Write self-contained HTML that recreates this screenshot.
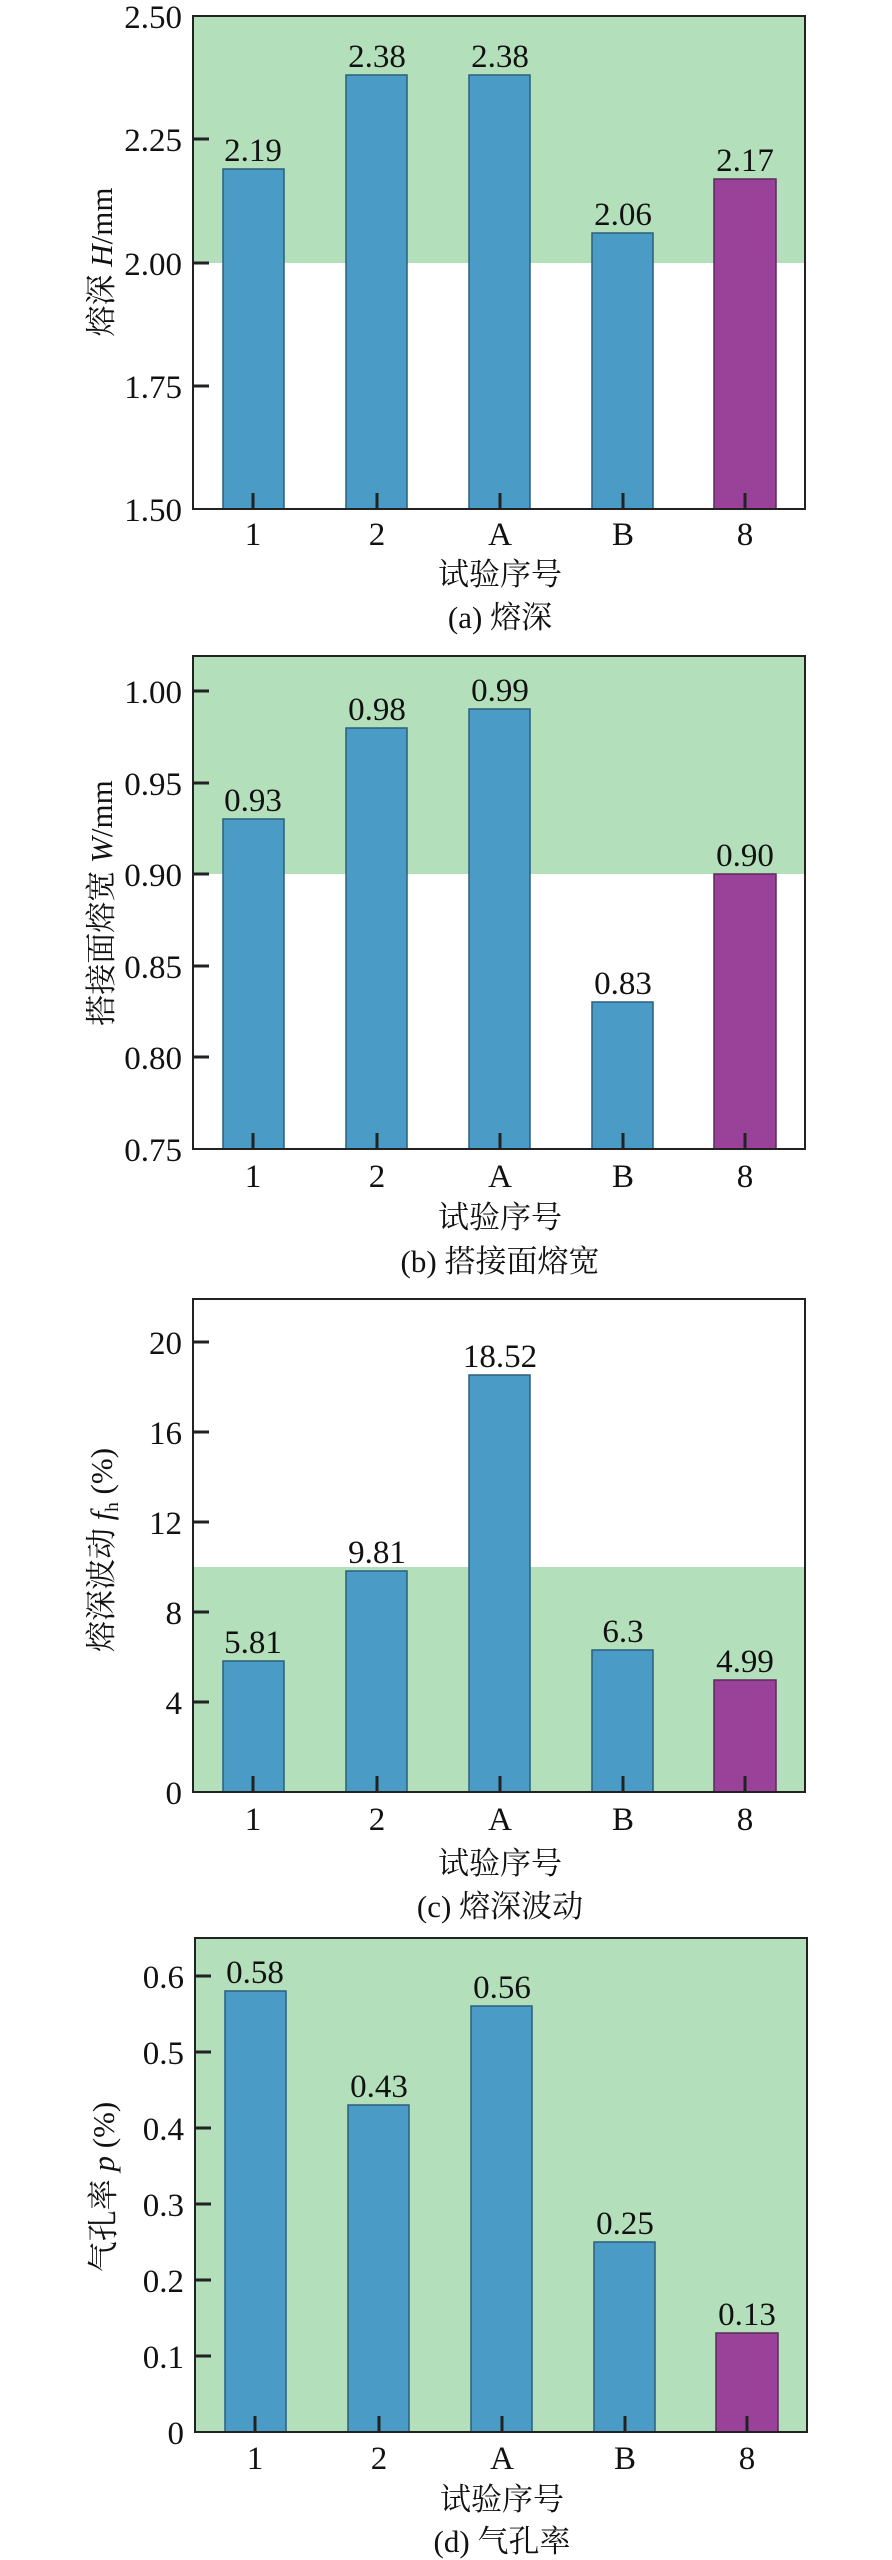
<!DOCTYPE html>
<html><head><meta charset="utf-8"><style>
html,body{margin:0;padding:0;background:#fff}
svg{display:block}
text{font-family:"Liberation Serif","Times New Roman","Noto Serif CJK SC",serif;fill:#111}
.t{font-size:33px}
.c{font-size:31px;font-family:"Liberation Serif","Noto Serif CJK SC","Noto Sans CJK SC",serif}
</style></head><body>
<svg width="892" height="2560" viewBox="0 0 892 2560" xmlns="http://www.w3.org/2000/svg">
<defs><style>.bb{fill:#4a9cc7;stroke:#2d5f7c;stroke-width:1.5}.pb{fill:#9a4199;stroke:#5a2a5a;stroke-width:1.5}.ax{fill:none;stroke:#222;stroke-width:2}.tk{stroke:#222;stroke-width:3}</style></defs>

<!-- Panel a -->
<rect x="193" y="16" width="612" height="247" fill="#b3dfbb"/>
<rect class="bb" x="223" y="169" width="61" height="340"/>
<rect class="bb" x="346" y="75" width="61" height="434"/>
<rect class="bb" x="469" y="75" width="61" height="434"/>
<rect class="bb" x="592" y="233" width="61" height="276"/>
<rect class="pb" x="714" y="179" width="62" height="330"/>
<rect class="ax" x="193" y="16" width="612" height="493"/>
<g class="tk"><line x1="193" y1="139" x2="209" y2="139"/><line x1="193" y1="263" x2="209" y2="263"/><line x1="193" y1="386" x2="209" y2="386"/>
<line x1="253" y1="509" x2="253" y2="493"/><line x1="377" y1="509" x2="377" y2="493"/><line x1="500" y1="509" x2="500" y2="493"/><line x1="623" y1="509" x2="623" y2="493"/><line x1="745" y1="509" x2="745" y2="493"/></g>
<g class="t" text-anchor="end"><text x="182" y="28">2.50</text><text x="182" y="151">2.25</text><text x="182" y="275">2.00</text><text x="182" y="398">1.75</text><text x="182" y="521">1.50</text></g>
<g class="t" text-anchor="middle"><text x="253" y="161">2.19</text><text x="377" y="67">2.38</text><text x="500" y="67">2.38</text><text x="623" y="225">2.06</text><text x="745" y="171">2.17</text>
<text x="253" y="545">1</text><text x="377" y="545">2</text><text x="500" y="545">A</text><text x="623" y="545">B</text><text x="745" y="545">8</text></g>
<text class="c" x="500" y="585" text-anchor="middle">试验序号</text>
<text class="c" x="500" y="628" text-anchor="middle">(a) 熔深</text>
<text class="c" transform="translate(112,262) rotate(-90)" text-anchor="middle">熔深 <tspan font-style="italic">H</tspan>/mm</text>

<!-- Panel b -->
<rect x="193" y="656" width="612" height="218" fill="#b3dfbb"/>
<rect class="bb" x="223" y="819" width="61" height="330"/>
<rect class="bb" x="346" y="728" width="61" height="421"/>
<rect class="bb" x="469" y="709" width="61" height="440"/>
<rect class="bb" x="592" y="1002" width="61" height="147"/>
<rect class="pb" x="714" y="874" width="62" height="275"/>
<rect class="ax" x="193" y="656" width="612" height="493"/>
<g class="tk"><line x1="193" y1="691" x2="209" y2="691"/><line x1="193" y1="783" x2="209" y2="783"/><line x1="193" y1="874" x2="209" y2="874"/><line x1="193" y1="966" x2="209" y2="966"/><line x1="193" y1="1057" x2="209" y2="1057"/>
<line x1="253" y1="1149" x2="253" y2="1133"/><line x1="377" y1="1149" x2="377" y2="1133"/><line x1="500" y1="1149" x2="500" y2="1133"/><line x1="623" y1="1149" x2="623" y2="1133"/><line x1="745" y1="1149" x2="745" y2="1133"/></g>
<g class="t" text-anchor="end"><text x="182" y="703">1.00</text><text x="182" y="795">0.95</text><text x="182" y="886">0.90</text><text x="182" y="978">0.85</text><text x="182" y="1069">0.80</text><text x="182" y="1161">0.75</text></g>
<g class="t" text-anchor="middle"><text x="253" y="811">0.93</text><text x="377" y="720">0.98</text><text x="500" y="701">0.99</text><text x="623" y="994">0.83</text><text x="745" y="866">0.90</text>
<text x="253" y="1187">1</text><text x="377" y="1187">2</text><text x="500" y="1187">A</text><text x="623" y="1187">B</text><text x="745" y="1187">8</text></g>
<text class="c" x="500" y="1228" text-anchor="middle">试验序号</text>
<text class="c" x="500" y="1272" text-anchor="middle">(b) 搭接面熔宽</text>
<text class="c" transform="translate(112,903) rotate(-90)" text-anchor="middle">搭接面熔宽 <tspan font-style="italic">W</tspan>/mm</text>

<!-- Panel c -->
<rect x="193" y="1567" width="612" height="225" fill="#b3dfbb"/>
<rect class="bb" x="223" y="1661" width="61" height="131"/>
<rect class="bb" x="346" y="1571" width="61" height="221"/>
<rect class="bb" x="469" y="1375" width="61" height="417"/>
<rect class="bb" x="592" y="1650" width="61" height="142"/>
<rect class="pb" x="714" y="1680" width="62" height="112"/>
<rect class="ax" x="193" y="1299" width="612" height="493"/>
<g class="tk"><line x1="193" y1="1342" x2="209" y2="1342"/><line x1="193" y1="1432" x2="209" y2="1432"/><line x1="193" y1="1522" x2="209" y2="1522"/><line x1="193" y1="1612" x2="209" y2="1612"/><line x1="193" y1="1702" x2="209" y2="1702"/>
<line x1="253" y1="1792" x2="253" y2="1776"/><line x1="377" y1="1792" x2="377" y2="1776"/><line x1="500" y1="1792" x2="500" y2="1776"/><line x1="623" y1="1792" x2="623" y2="1776"/><line x1="745" y1="1792" x2="745" y2="1776"/></g>
<g class="t" text-anchor="end"><text x="182" y="1354">20</text><text x="182" y="1444">16</text><text x="182" y="1534">12</text><text x="182" y="1624">8</text><text x="182" y="1714">4</text><text x="182" y="1804">0</text></g>
<g class="t" text-anchor="middle"><text x="253" y="1653">5.81</text><text x="377" y="1563">9.81</text><text x="500" y="1367">18.52</text><text x="623" y="1642">6.3</text><text x="745" y="1672">4.99</text>
<text x="253" y="1830">1</text><text x="377" y="1830">2</text><text x="500" y="1830">A</text><text x="623" y="1830">B</text><text x="745" y="1830">8</text></g>
<text class="c" x="500" y="1874" text-anchor="middle">试验序号</text>
<text class="c" x="500" y="1917" text-anchor="middle">(c) 熔深波动</text>
<text class="c" transform="translate(112,1550) rotate(-90)" text-anchor="middle">熔深波动 <tspan font-style="italic">f</tspan><tspan font-size="19" dy="6">h</tspan><tspan dy="-6"> (%)</tspan></text>

<!-- Panel d -->
<rect x="195" y="1938" width="612" height="494" fill="#b3dfbb"/>
<rect class="bb" x="225" y="1991" width="61" height="441"/>
<rect class="bb" x="348" y="2105" width="61" height="327"/>
<rect class="bb" x="471" y="2006" width="61" height="426"/>
<rect class="bb" x="594" y="2242" width="61" height="190"/>
<rect class="pb" x="716" y="2333" width="62" height="99"/>
<rect class="ax" x="195" y="1938" width="612" height="494"/>
<g class="tk"><line x1="195" y1="1976" x2="211" y2="1976"/><line x1="195" y1="2052" x2="211" y2="2052"/><line x1="195" y1="2128" x2="211" y2="2128"/><line x1="195" y1="2204" x2="211" y2="2204"/><line x1="195" y1="2280" x2="211" y2="2280"/><line x1="195" y1="2356" x2="211" y2="2356"/>
<line x1="255" y1="2432" x2="255" y2="2416"/><line x1="379" y1="2432" x2="379" y2="2416"/><line x1="502" y1="2432" x2="502" y2="2416"/><line x1="625" y1="2432" x2="625" y2="2416"/><line x1="747" y1="2432" x2="747" y2="2416"/></g>
<g class="t" text-anchor="end"><text x="184" y="1988">0.6</text><text x="184" y="2064">0.5</text><text x="184" y="2140">0.4</text><text x="184" y="2216">0.3</text><text x="184" y="2292">0.2</text><text x="184" y="2368">0.1</text><text x="184" y="2444">0</text></g>
<g class="t" text-anchor="middle"><text x="255" y="1983">0.58</text><text x="379" y="2097">0.43</text><text x="502" y="1998">0.56</text><text x="625" y="2234">0.25</text><text x="747" y="2325">0.13</text>
<text x="255" y="2469">1</text><text x="379" y="2469">2</text><text x="502" y="2469">A</text><text x="625" y="2469">B</text><text x="747" y="2469">8</text></g>
<text class="c" x="502" y="2510" text-anchor="middle">试验序号</text>
<text class="c" x="502" y="2552" text-anchor="middle">(d) 气孔率</text>
<text class="c" transform="translate(114,2187) rotate(-90)" text-anchor="middle">气孔率 <tspan font-style="italic">p</tspan> (%)</text>
</svg>
</body></html>
